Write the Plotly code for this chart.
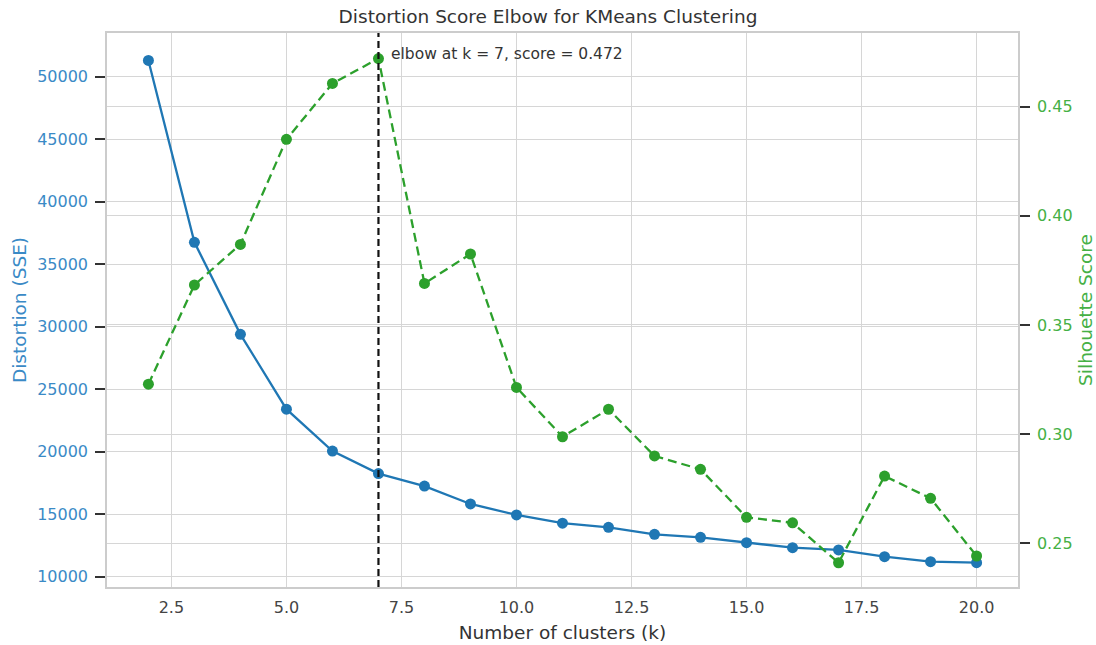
import plotly.graph_objects as go

k_values = list(range(2, 21))
distortion = [51300, 36750, 29390, 23400, 20050, 18250, 17250, 15820, 14940, 14280,
              13950, 13390, 13150, 12720, 12320, 12140, 11600, 11200, 11120]
silhouette = [0.3229, 0.3683, 0.3869, 0.4350, 0.4606, 0.4720, 0.3690, 0.3825, 0.3214, 0.2988,
              0.3114, 0.2900, 0.2839, 0.2619, 0.2594, 0.2411, 0.2808, 0.2706, 0.2442]
elbow_k = 7
elbow_score = 0.472
x_ticks = [2.5, 5.0, 7.5, 10.0, 12.5, 15.0, 17.5, 20.0]
left_ticks = [10000, 15000, 20000, 25000, 30000, 35000, 40000, 45000, 50000]
right_ticks = [0.25, 0.30, 0.35, 0.40, 0.45]

BLUE = "#1f77b4"
BLUE_TXT = "#3a8ac6"
GREEN = "#2ca02c"
GREEN_TXT = "#45b045"
GRID = "#d6d6d6"
FONT = "DejaVu Sans"

fig = go.Figure()
fig.add_trace(go.Scatter(
    x=k_values, y=distortion, mode="lines+markers", name="Distortion",
    line=dict(color=BLUE, width=2.3), marker=dict(color=BLUE, size=11),
    yaxis="y", showlegend=False))
fig.add_trace(go.Scatter(
    x=k_values, y=silhouette, mode="lines+markers", name="Silhouette",
    line=dict(color=GREEN, width=2.3, dash="9px,5px"), marker=dict(color=GREEN, size=11),
    yaxis="y2", showlegend=False))

fig.add_shape(type="line", xref="x", yref="paper", x0=elbow_k, x1=elbow_k, y0=0, y1=1,
              line=dict(color="#111111", width=2.2, dash="7px,4px"))

fig.add_annotation(x=elbow_k, y=51816, xref="x", yref="y", xanchor="left", yanchor="middle",
                   xshift=11, showarrow=False,
                   text=f"elbow at k = {elbow_k}, score = {elbow_score}",
                   font=dict(family=FONT, size=15.5, color="#333333"))

fig.update_layout(
    width=1096, height=645,
    margin=dict(l=107, r=78, t=33, b=58, autoexpand=False),
    paper_bgcolor="white", plot_bgcolor="white",
    font=dict(family=FONT, size=16, color="#333333"),
    title=dict(text="Distortion Score Elbow for KMeans Clustering", x=0.5, xanchor="center",
               y=1 - 17 / 645, yanchor="middle", font=dict(family=FONT, size=18.5, color="#333333")),
    xaxis=dict(range=[1.1, 20.9], tickvals=x_ticks, ticktext=[f"{v:.1f}" for v in x_ticks],
               showgrid=True, gridcolor=GRID, gridwidth=1.3, zeroline=False, automargin=False,
               showline=True, linecolor="#cccccc", linewidth=1.5, mirror=True,
               ticks="outside", ticklen=5, tickcolor="rgba(0,0,0,0)",
               tickfont=dict(family=FONT, size=16, color="#444444"),
               title=dict(text="Number of clusters (k)", standoff=10,
                          font=dict(family=FONT, size=18.5, color="#333333"))),
    yaxis=dict(range=[9176, 53496], tickvals=left_ticks, ticktext=[str(v) for v in left_ticks],
               showgrid=True, gridcolor=GRID, gridwidth=1.3, zeroline=False, automargin=False,
               showline=True, linecolor="#cccccc", linewidth=1.5,
               ticks="outside", ticklen=10, tickwidth=1.5, tickcolor="#333333",
               ticklabelstandoff=4,
               tickfont=dict(family=FONT, size=16, color=BLUE_TXT),
               title=dict(text="Distortion (SSE)", standoff=6,
                          font=dict(family=FONT, size=18.5, color=BLUE_TXT))),
    yaxis2=dict(range=[0.2300, 0.4837], overlaying="y", side="right",
                tickvals=right_ticks, ticktext=[f"{v:.2f}" for v in right_ticks],
                showgrid=True, gridcolor=GRID, gridwidth=1.3, zeroline=False, automargin=False,
                showline=True, linecolor="#cccccc", linewidth=1.5,
                ticks="outside", ticklen=10, tickwidth=1.5, tickcolor="#333333",
                ticklabelstandoff=4,
                tickfont=dict(family=FONT, size=16, color=GREEN_TXT),
                title=dict(text="Silhouette Score", standoff=8,
                           font=dict(family=FONT, size=18.5, color=GREEN_TXT))),
)

fig.write_html("out.html", config={"displayModeBar": False},
               post_script="document.body.style.margin='0';document.body.style.overflow='hidden';")
